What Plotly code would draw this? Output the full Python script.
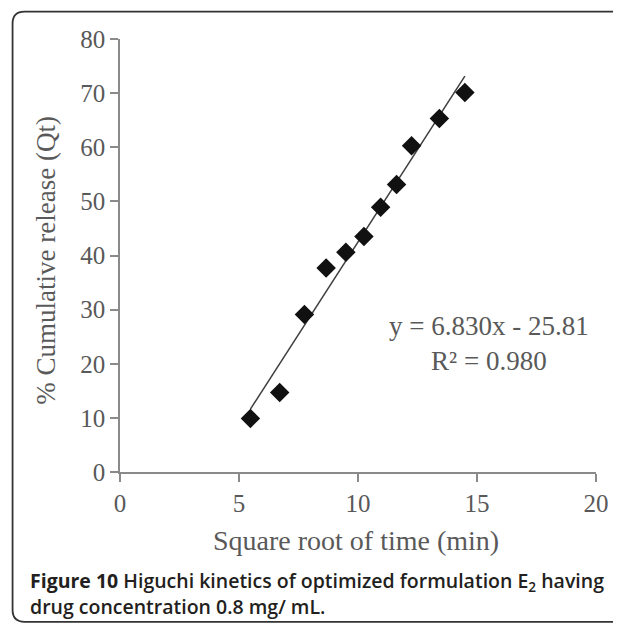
import plotly.graph_objects as go

# ---- data ----
sqrt_time = [5.48, 6.71, 7.75, 8.66, 9.49, 10.25, 10.95, 11.62, 12.25, 13.42, 14.49]
cum_release = [9.9, 14.7, 29.1, 37.7, 40.6, 43.5, 48.9, 53.1, 60.3, 65.3, 70.1]
slope = 6.830
intercept = -25.81
r_squared = 0.980
x_ticks = [0, 5, 10, 15, 20]
y_ticks = [0, 10, 20, 30, 40, 50, 60, 70, 80]

# page body has an 8px margin: the figure starts at (8, 8) of the window
OFF = 8
W, H = 621 - OFF, 624 - OFF
# plot area in window pixels
P_L, P_R, P_T, P_B = 119.5, 598, 39, 472.5
ML, MR, MT, MB = P_L - OFF, W - (P_R - OFF), P_T - OFF, H - (P_B - OFF)
PW = P_R - P_L
PH = P_B - P_T


def px_x(p):
    return (p - P_L) / PW


def px_y(p):
    return (P_B - p) / PH


serif = "Liberation Serif, Times New Roman, serif"
txt_col = "#595959"
axis_col = "#8a8a8a"

fig = go.Figure()

# trend line
x0, x1 = min(sqrt_time), max(sqrt_time)
fig.add_trace(go.Scatter(
    x=[x0, x1], y=[slope * x0 + intercept, slope * x1 + intercept],
    mode="lines", line=dict(color="#3f3f3f", width=1.5),
    showlegend=False, hoverinfo="skip"))

# data points
fig.add_trace(go.Scatter(
    x=sqrt_time, y=cum_release, mode="markers",
    marker=dict(symbol="diamond", size=15, color="#111111"),
    showlegend=False))

fig.update_xaxes(range=[0, 20], tickvals=x_ticks, showgrid=False, zeroline=False,
                 showline=True, linecolor=axis_col, linewidth=1.5,
                 ticks="outside", ticklen=8, tickcolor=axis_col, tickwidth=1.5,
                 tickfont=dict(family=serif, size=25, color=txt_col))
fig.update_yaxes(range=[0, 80], tickvals=y_ticks, showgrid=False, zeroline=False,
                 showline=True, linecolor=axis_col, linewidth=1.5,
                 ticks="outside", ticklen=8, tickcolor=axis_col, tickwidth=1.5,
                 tickfont=dict(family=serif, size=25, color=txt_col))

# frame with rounded corners (decoration)
L, T, R, B, r = 11.5, 11.5, 640, 622.5, 12
path = (f"M {px_x(R)},{px_y(T)} L {px_x(L + r)},{px_y(T)} "
        f"Q {px_x(L)},{px_y(T)} {px_x(L)},{px_y(T + r)} "
        f"L {px_x(L)},{px_y(B - r)} Q {px_x(L)},{px_y(B)} {px_x(L + r)},{px_y(B)} "
        f"L {px_x(R)},{px_y(B)}")
fig.add_shape(type="path", path=path, xref="paper", yref="paper",
              line=dict(color="#333333", width=1.8))

cap_font = dict(family="Open Sans, Noto Sans, sans-serif", size=19.5, color="#231f20", weight=600)
annotations = [
    dict(text="% Cumulative release (Qt)", x=px_x(45), y=px_y(260), xref="paper", yref="paper",
         textangle=-90, showarrow=False, xanchor="center", yanchor="middle",
         font=dict(family=serif, size=27, color=txt_col)),
    dict(text="Square root of time (min)", x=px_x(357), y=px_y(541), xref="paper", yref="paper",
         showarrow=False, xanchor="center", yanchor="middle",
         font=dict(family=serif, size=28, color=txt_col)),
    dict(text=f"y = {slope:.3f}x - {abs(intercept):.2f}<br>R² = {r_squared:.3f}",
         x=15.5, y=23.7, xref="x", yref="y", showarrow=False,
         xanchor="center", yanchor="middle", align="center",
         font=dict(family=serif, size=27, color=txt_col)),
    dict(text="<b>Figure 10</b> Higuchi kinetics of optimized formulation E<sub>2</sub> having",
         x=px_x(27), y=px_y(582), xref="paper", yref="paper", showarrow=False,
         xanchor="left", yanchor="middle", align="left", font=cap_font),
    dict(text="drug concentration 0.8 mg/ mL.",
         x=px_x(27), y=px_y(607), xref="paper", yref="paper", showarrow=False,
         xanchor="left", yanchor="middle", align="left", font=cap_font),
]

fig.update_layout(
    width=W, height=H,
    margin=dict(l=ML, r=MR, t=MT, b=MB, pad=0),
    paper_bgcolor="white", plot_bgcolor="white",
    annotations=annotations,
)

fig.write_html("out.html")
